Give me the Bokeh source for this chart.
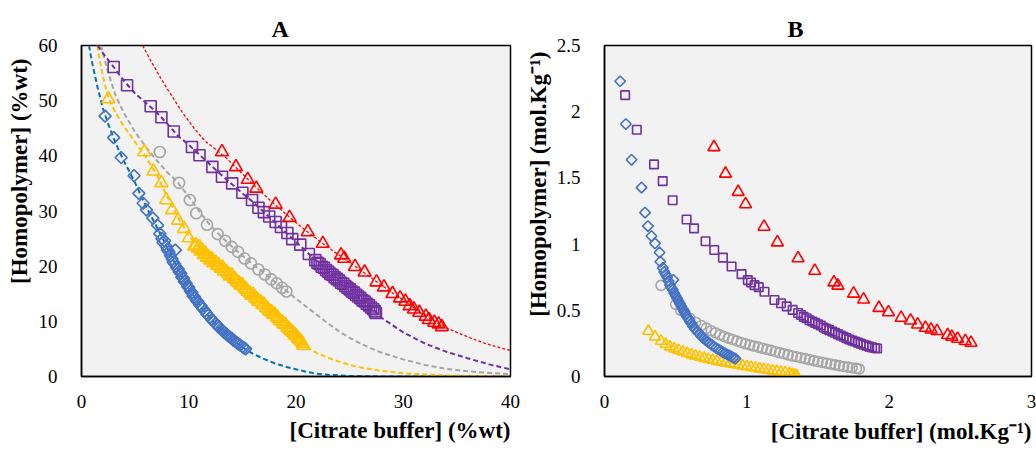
import math

from bokeh.plotting import figure
from bokeh.layouts import row
from bokeh.models import Range1d, Title, FixedTicker, NumeralTickFormatter
from bokeh.embed import file_html
from bokeh.resources import INLINE

# ---------------------------------------------------------------------------
# Binodal data, panel A: (citrate buffer %wt, homopolymer %wt)
# ---------------------------------------------------------------------------
blue_a = [(2.2, 47.2), (3.0, 43.3), (3.7, 39.7), (4.9, 36.4), (5.35, 33.2), (5.75, 31.4),
          (6.05, 30.2), (6.65, 28.7), (7.1, 27.4), (7.3, 25.9), (7.5, 25.0), (7.6, 24.3),
          (7.75, 24.6), (7.9, 23.6), (8.0, 23.0), (8.15, 22.6), (8.75, 22.9), (8.3, 21.9),
          (8.45, 21.3), (8.55, 20.7), (8.7, 20.4), (8.85, 19.8), (9.0, 19.5), (9.1, 19.0),
          (9.25, 18.7), (9.35, 18.0), (9.5, 17.8), (9.6, 17.2), (9.75, 16.9), (9.9, 16.3),
          (10.0, 16.1), (10.15, 15.5), (10.3, 15.2), (10.4, 14.6), (10.55, 14.4), (10.7, 13.8),
          (10.85, 13.6), (11.0, 13.0), (11.15, 12.8), (11.3, 12.3), (11.5, 11.9), (11.65, 11.4),
          (11.8, 11.1), (12.0, 10.7), (12.15, 10.3), (12.3, 10.0), (12.5, 9.6), (12.65, 9.3),
          (12.8, 8.9), (13.0, 8.6), (13.15, 8.3), (13.3, 8.0), (13.5, 7.7), (13.65, 7.4),
          (13.8, 7.2), (14.0, 6.9), (14.15, 6.6), (14.3, 6.4), (14.5, 6.1), (14.65, 5.9),
          (14.8, 5.7), (15.0, 5.4), (15.15, 5.2), (15.3, 5.0)]

yellow_a = [(2.5, 50.3), (5.85, 40.7), (6.7, 37.2), (7.45, 35.1), (7.9, 32.0), (8.45, 30.2),
            (9.0, 28.3), (9.55, 26.8), (10.0, 25.1), (10.5, 23.6), (10.7, 23.8), (10.85, 23.2),
            (11.0, 23.5), (11.1, 22.7), (11.25, 22.9), (11.4, 22.1), (11.55, 22.3), (11.7, 21.6),
            (11.85, 21.7), (12.0, 21.1), (12.15, 21.3), (12.3, 20.6), (12.5, 20.7), (12.65, 20.1),
            (12.8, 20.2), (13.0, 19.6), (13.15, 19.8), (13.3, 19.1), (13.5, 19.0), (13.7, 18.6),
            (13.85, 18.2), (14.0, 18.4), (14.2, 17.8), (14.35, 17.6), (14.5, 17.2), (14.7, 16.9),
            (14.85, 16.5), (15.0, 16.6), (15.2, 16.0), (15.35, 15.8), (15.5, 15.4), (15.7, 15.1),
            (15.85, 14.7), (16.0, 14.9), (16.2, 14.3), (16.35, 14.0), (16.5, 13.6), (16.7, 13.5),
            (16.85, 13.0), (17.0, 13.1), (17.2, 12.5), (17.35, 12.3), (17.5, 11.9), (17.7, 11.7),
            (17.85, 11.3), (18.0, 11.3), (18.2, 10.8), (18.35, 10.5), (18.5, 10.1), (18.7, 9.9),
            (18.85, 9.5), (19.0, 9.4), (19.2, 8.9), (19.35, 8.6), (19.5, 8.3), (19.7, 8.0),
            (19.85, 7.6), (20.0, 7.4), (20.15, 7.0), (20.3, 6.7), (20.45, 6.4), (20.6, 6.0),
            (20.7, 5.6)]

gray_a = [(7.3, 40.7), (9.1, 35.1), (10.1, 32.0), (10.7, 29.6), (11.7, 27.5), (12.7, 25.8),
          (13.4, 24.6), (14.0, 23.5), (14.6, 22.6), (15.2, 21.4), (15.8, 20.5), (16.5, 19.4),
          (17.1, 18.5), (17.7, 17.6), (18.2, 16.9), (18.7, 16.1), (19.1, 15.4)]

purple_a = [(3.0, 56.1), (4.25, 52.8), (6.45, 49.0), (7.45, 47.0), (8.6, 44.4), (10.3, 41.6),
            (11.0, 40.1), (12.2, 38.0), (13.1, 36.2), (14.05, 35.0), (15.0, 33.3), (15.9, 32.0),
            (16.5, 30.6), (17.0, 29.8), (17.5, 29.0), (18.1, 28.0), (18.6, 27.1), (19.2, 26.0),
            (19.65, 24.9), (20.4, 23.9), (21.2, 22.2), (21.8, 21.1), (22.0, 20.6), (22.2, 20.4),
            (22.4, 19.9), (22.6, 19.7), (22.8, 19.3), (23.0, 19.0), (23.2, 18.6), (23.4, 18.4),
            (23.6, 18.0), (23.8, 17.7), (24.0, 17.4), (24.2, 17.0), (24.4, 16.8), (24.6, 16.4),
            (24.8, 16.1), (25.0, 15.8), (25.2, 15.4), (25.4, 15.2), (25.6, 14.8), (25.8, 14.5),
            (26.0, 14.2), (26.2, 13.8), (26.4, 13.6), (26.6, 13.2), (26.8, 12.9), (27.0, 12.5),
            (27.2, 12.2), (27.35, 11.8), (27.45, 11.5)]

red_a = [(13.1, 40.7), (14.4, 38.0), (15.5, 35.7), (16.3, 34.1), (18.1, 31.2), (19.4, 28.8),
         (21.1, 26.2), (22.5, 24.1), (24.2, 22.0), (24.5, 21.4), (25.5, 19.9), (26.4, 18.9),
         (27.5, 17.1), (28.2, 16.2), (29.0, 15.0), (29.7, 14.2), (30.2, 13.6), (30.6, 12.8),
         (31.0, 12.2), (31.5, 11.6), (32.1, 10.9), (32.4, 10.3), (32.9, 9.8), (33.3, 9.5),
         (33.6, 9.0)]

# Fitted binodal correlations (dashed lines), panel A
blue_fit_x = [0.7, 1.0, 1.5, 2.0, 2.5, 3.0, 3.5, 4.0, 4.5, 5.0, 5.5, 6.0, 6.5, 7.0, 7.5, 8.0,
              8.5, 9.0, 9.5, 10.0, 10.5, 11.0, 11.5, 12.0, 12.5, 13.0, 13.5, 14.0, 14.5, 15.0,
              16.0, 17.0, 18.0, 19.0, 20.0, 21.0, 22.0, 23.0, 25.0, 28.0, 32.0, 40.0]
blue_fit_y = [60, 56.8, 52.4, 48.6, 45.7, 43.2, 40.9, 38.9, 37.0, 35.1, 33.0, 30.9, 29.0, 27.2,
              25.3, 23.3, 21.4, 19.5, 17.7, 16.0, 14.5, 13.1, 11.8, 10.6, 9.5, 8.5, 7.6, 6.8,
              6.0, 5.3, 4.1, 3.2, 2.4, 1.8, 1.3, 0.85, 0.5, 0.3, 0.1, 0.02, 0.0, 0.0]

yellow_fit_x = [1.45, 2.0, 2.5, 3.0, 3.5, 4.0, 5.0, 6.0, 7.0, 8.0, 9.0, 10.0, 11.0, 12.0, 13.0,
                14.0, 15.0, 16.0, 17.0, 18.0, 19.0, 20.0, 21.0, 22.0, 23.0, 24.0, 25.0, 26.0,
                28.0, 30.0, 33.0, 36.0, 40.0]
yellow_fit_y = [60, 54.3, 50.6, 48.5, 46.8, 45.2, 42.5, 39.8, 36.6, 32.6, 28.8, 25.6, 23.2,
                21.5, 19.8, 18.2, 16.5, 14.8, 13.0, 11.2, 9.3, 7.3, 5.3, 4.2, 3.4, 2.7, 2.1,
                1.65, 1.0, 0.6, 0.25, 0.1, 0.03]

gray_fit_x = [1.8, 2.5, 3.2, 4.0, 5.0, 6.0, 7.0, 8.0, 9.0, 10.0, 11.0, 12.0, 13.0, 14.0, 15.0,
              16.0, 17.0, 18.0, 19.0, 20.0, 21.0, 22.0, 23.0, 24.0, 25.0, 26.0, 27.0, 28.0,
              30.0, 32.0, 34.0, 36.0, 38.0, 40.0]
gray_fit_y = [60, 55.0, 50.8, 47.6, 44.3, 41.6, 39.2, 37.0, 35.1, 32.6, 29.9, 27.4, 25.4, 23.6,
              21.9, 20.3, 18.8, 17.2, 15.7, 14.1, 12.6, 11.1, 9.6, 8.2, 7.0, 6.0, 5.1, 4.3,
              3.1, 2.1, 1.4, 0.95, 0.65, 0.45]

purple_fit_x = [1.5, 2.0, 3.0, 4.0, 5.0, 6.0, 7.0, 8.0, 9.0, 10.0, 11.0, 12.0, 13.0, 14.0, 15.0,
                16.0, 17.0, 18.0, 19.0, 20.0, 21.0, 22.0, 23.0, 24.0, 25.0, 26.0, 27.0, 28.0,
                30.0, 32.0, 34.0, 36.0, 38.0, 40.0]
purple_fit_y = [60, 58.6, 56.1, 53.5, 51.3, 49.6, 47.9, 45.8, 43.6, 42.0, 40.2, 38.4, 36.6,
                34.9, 33.2, 31.6, 29.8, 28.0, 26.2, 24.4, 22.6, 20.8, 19.0, 17.4, 15.8, 14.2,
                12.6, 10.6, 8.0, 6.0, 4.5, 3.3, 2.2, 1.3]

red_fit_x = [5.7, 6.5, 7.5, 8.5, 9.5, 10.5, 11.5, 12.5, 13.5, 14.5, 15.5, 16.5, 17.5, 18.5,
             19.5, 20.5, 21.5, 22.5, 23.5, 24.5, 25.5, 26.5, 27.5, 28.5, 29.5, 30.5, 31.5,
             32.5, 33.5, 34.5, 35.5, 36.5, 37.5, 38.5, 40.0]
red_fit_y = [60, 57.1, 53.7, 50.6, 47.6, 45.0, 42.7, 41.2, 39.6, 37.7, 35.8, 33.9, 32.1, 30.4,
             28.7, 27.1, 25.6, 24.1, 22.7, 21.3, 20.0, 18.6, 17.2, 15.8, 14.5, 13.2, 11.7,
             10.5, 9.3, 8.4, 7.6, 6.8, 6.1, 5.5, 4.7]

# ---------------------------------------------------------------------------
# Binodal data, panel B: (citrate buffer mol/kg, homopolymer mol/kg)
# ---------------------------------------------------------------------------
blue_b = [(0.11, 2.23), (0.15, 1.907), (0.19, 1.637), (0.26, 1.427), (0.285, 1.238),
          (0.305, 1.136), (0.33, 1.061), (0.355, 1.005), (0.387, 0.937), (0.392, 0.867),
          (0.41, 0.82), (0.42, 0.79), (0.43, 0.77), (0.44, 0.75), (0.45, 0.72), (0.484, 0.73),
          (0.46, 0.69), (0.47, 0.67), (0.48, 0.655), (0.49, 0.63), (0.50, 0.61), (0.51, 0.59),
          (0.52, 0.57), (0.53, 0.55), (0.54, 0.53), (0.55, 0.51), (0.56, 0.49), (0.57, 0.47),
          (0.58, 0.45), (0.59, 0.435), (0.60, 0.415), (0.61, 0.40), (0.62, 0.38), (0.635, 0.36),
          (0.65, 0.34), (0.665, 0.325), (0.68, 0.305), (0.695, 0.29), (0.71, 0.275),
          (0.725, 0.262), (0.74, 0.25), (0.755, 0.237), (0.77, 0.225), (0.785, 0.215),
          (0.80, 0.205), (0.815, 0.195), (0.83, 0.185), (0.845, 0.177), (0.86, 0.168),
          (0.875, 0.16), (0.89, 0.152), (0.905, 0.143), (0.92, 0.135)]

yellow_b = [(0.308, 0.343), (0.355, 0.30), (0.397, 0.268), (0.43, 0.243), (0.46, 0.225),
            (0.49, 0.21), (0.52, 0.198), (0.55, 0.186), (0.58, 0.175), (0.61, 0.165),
            (0.64, 0.155), (0.67, 0.147), (0.70, 0.139), (0.73, 0.131), (0.76, 0.124),
            (0.79, 0.117), (0.82, 0.11), (0.85, 0.104), (0.88, 0.098), (0.91, 0.092),
            (0.94, 0.086), (0.97, 0.081), (1.00, 0.075), (1.03, 0.07), (1.06, 0.065),
            (1.09, 0.059), (1.12, 0.054), (1.15, 0.049), (1.18, 0.044), (1.21, 0.039),
            (1.24, 0.034), (1.27, 0.028), (1.30, 0.022), (1.32, 0.017), (1.34, 0.01),
            (1.35, 0.005)]

gray_b = [(0.397, 0.688), (0.50, 0.545), (0.535, 0.50), (0.565, 0.48), (0.60, 0.44),
          (0.64, 0.41), (0.68, 0.385), (0.715, 0.365), (0.75, 0.345), (0.78, 0.33),
          (0.81, 0.315), (0.84, 0.302), (0.87, 0.29), (0.90, 0.28), (0.93, 0.268),
          (0.96, 0.257), (0.99, 0.247), (1.02, 0.238), (1.05, 0.23), (1.08, 0.222),
          (1.11, 0.213), (1.14, 0.205), (1.17, 0.197), (1.20, 0.189), (1.23, 0.18),
          (1.26, 0.172), (1.29, 0.163), (1.32, 0.155), (1.35, 0.149), (1.38, 0.142),
          (1.41, 0.135), (1.44, 0.128), (1.47, 0.12), (1.50, 0.113), (1.53, 0.107),
          (1.56, 0.10), (1.59, 0.094), (1.62, 0.088), (1.65, 0.082), (1.68, 0.076),
          (1.71, 0.071), (1.74, 0.066), (1.77, 0.061), (1.79, 0.057)]

purple_b = [(0.145, 2.125), (0.227, 1.864), (0.348, 1.602), (0.409, 1.476), (0.479, 1.331),
            (0.577, 1.186), (0.629, 1.119), (0.71, 1.021), (0.771, 0.956), (0.832, 0.898),
            (0.893, 0.831), (0.963, 0.773), (1.007, 0.728), (1.03, 0.71), (1.054, 0.69),
            (1.084, 0.675), (1.124, 0.64), (1.194, 0.578), (1.24, 0.553), (1.28, 0.53),
            (1.322, 0.503), (1.36, 0.48), (1.381, 0.465), (1.40, 0.45), (1.42, 0.44),
            (1.44, 0.425), (1.46, 0.415), (1.48, 0.405), (1.50, 0.395), (1.52, 0.385),
            (1.54, 0.37), (1.56, 0.36), (1.58, 0.35), (1.60, 0.34), (1.62, 0.33), (1.64, 0.32),
            (1.66, 0.31), (1.68, 0.30), (1.70, 0.29), (1.72, 0.28), (1.74, 0.272), (1.76, 0.264),
            (1.78, 0.256), (1.80, 0.248), (1.82, 0.24), (1.84, 0.233), (1.86, 0.226),
            (1.88, 0.22), (1.90, 0.215), (1.915, 0.212)]

red_b = [(0.769, 1.732), (0.85, 1.532), (0.939, 1.394), (0.991, 1.301), (1.121, 1.131),
         (1.215, 1.013), (1.36, 0.893), (1.477, 0.798), (1.612, 0.711), (1.64, 0.686),
         (1.75, 0.626), (1.82, 0.581), (1.928, 0.518), (1.995, 0.485), (2.084, 0.443),
         (2.15, 0.423), (2.2, 0.393), (2.255, 0.368), (2.294, 0.355), (2.336, 0.343),
         (2.411, 0.313), (2.44, 0.3), (2.481, 0.285), (2.535, 0.268), (2.575, 0.255)]

ticks_a_x = [0, 10, 20, 30, 40]
ticks_a_y = [0, 10, 20, 30, 40, 50, 60]
ticks_b_x = [0, 1, 2, 3]
ticks_b_y = [0, 0.5, 1.0, 1.5, 2.0, 2.5]

SERIF = "Liberation Serif"
BLUE, BLUE_LINE = "#4472c4", "#0070c0"
YELLOW, GRAY, PURPLE, RED = "#ffc000", "#a5a5a5", "#7030a0", "#ff0000"


def style(p, xticks, yticks):
    p.background_fill_color = "#f2f2f2"
    p.border_fill_color = "white"
    p.outline_line_color = "black"
    p.outline_line_width = 1.5
    p.grid.visible = False
    for ax in (p.xaxis, p.yaxis):
        ax.major_tick_line_color = None
        ax.minor_tick_line_color = None
        ax.axis_line_color = "black"
        ax.axis_line_width = 1.5
        ax.major_label_text_font = SERIF
        ax.major_label_text_font_size = "19px"
        ax.major_label_text_color = "black"
    p.xaxis.ticker = FixedTicker(ticks=xticks)
    p.yaxis.ticker = FixedTicker(ticks=yticks)
    p.xaxis.major_label_standoff = 12
    p.yaxis.major_label_standoff = 18


def points(p, data, marker, color, size, angle=0.0):
    xs = [d[0] for d in data]
    ys = [d[1] for d in data]
    p.scatter(xs, ys, marker=marker, size=size, angle=angle, line_color=color,
              fill_color=None, line_width=1.6)


def heading(p, s, side, size, align, offset, standoff):
    p.add_layout(Title(text=s, text_font=SERIF, text_font_size=size,
                       text_font_style="bold", text_color="black", align=align,
                       offset=offset, standoff=standoff), side)


# ---------------------------------------------------------------- panel A
pa = figure(width=520, height=450, x_range=Range1d(0, 40), y_range=Range1d(0, 60),
            output_backend="svg", toolbar_location=None,
            min_border_left=10, min_border_right=10, min_border_top=45, min_border_bottom=5)
style(pa, ticks_a_x, ticks_a_y)

pa.line(blue_fit_x, blue_fit_y, line_color=BLUE_LINE, line_width=2, line_dash="5 3")
pa.line(yellow_fit_x, yellow_fit_y, line_color=YELLOW, line_width=2, line_dash="5 3")
pa.line(gray_fit_x, gray_fit_y, line_color=GRAY, line_width=2, line_dash="5 3")
pa.line(purple_fit_x, purple_fit_y, line_color=PURPLE, line_width=2, line_dash="5 3")
pa.line(red_fit_x, red_fit_y, line_color=RED, line_width=1.3, line_dash="3 2")

points(pa, blue_a, "square", BLUE, 8.5, angle=math.pi / 4)
points(pa, yellow_a, "triangle", YELLOW, 13)
points(pa, gray_a, "circle", GRAY, 11)
points(pa, purple_a, "square", PURPLE, 11)
points(pa, red_a, "triangle", RED, 13)

heading(pa, "A", "above", "24px", "left", 190, 7)
heading(pa, "[Citrate buffer] (%wt)", "below", "23px", "right", 0, 10)
heading(pa, "[Homopolymer] (%wt)", "left", "23px", "right", 13, 8)

# ---------------------------------------------------------------- panel B
pb = figure(width=516, height=450, x_range=Range1d(0, 3), y_range=Range1d(0, 2.5),
            output_backend="svg", toolbar_location=None,
            min_border_left=10, min_border_right=5, min_border_top=44, min_border_bottom=5)
style(pb, ticks_b_x, ticks_b_y)
pb.yaxis.formatter = NumeralTickFormatter(format="0.[0]")
pb.xaxis.formatter = NumeralTickFormatter(format="0.[0]")

points(pb, yellow_b, "triangle", YELLOW, 11)
points(pb, gray_b, "circle", GRAY, 10)
points(pb, blue_b, "square", BLUE, 7.5, angle=math.pi / 4)
points(pb, purple_b, "square", PURPLE, 8.5)
points(pb, red_b, "triangle", RED, 12)

heading(pb, "B", "above", "24px", "left", 183, 7)
heading(pb, "[Citrate buffer] (mol.Kg\u207b\u00b9)", "below", "23px", "right", 0, 13)
heading(pb, "[Homopolymer] (mol.Kg\u207b\u00b9)", "left", "23px", "right", 6, 6)

layout = row(pa, pb)
open("out.html", "w").write(file_html(layout, INLINE))
